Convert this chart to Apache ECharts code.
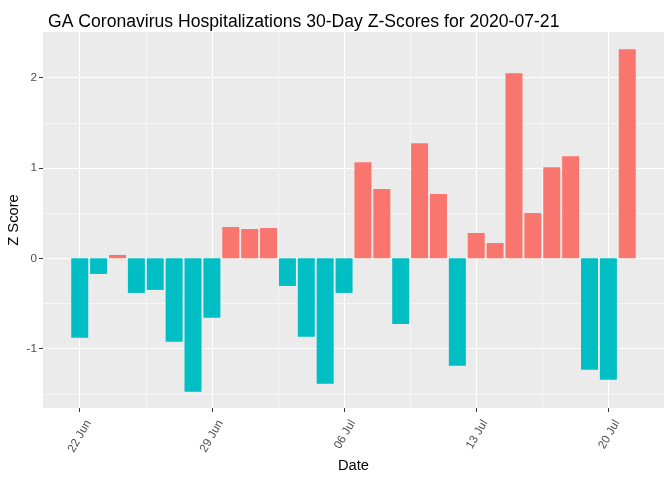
<!DOCTYPE html>
<html>
<head>
<meta charset="utf-8">
<script src="https://cdn.jsdelivr.net/npm/echarts@6/dist/echarts.min.js"></script>
<style>html,body{margin:0;padding:0;background:#fff}#c{width:672px;height:480px}</style>
</head>
<body>
<div id="c"></div>
<script>
// 30 days: 2020-06-22 .. 2020-07-21
const dates = ["2020-06-22","2020-06-23","2020-06-24","2020-06-25","2020-06-26","2020-06-27","2020-06-28",
  "2020-06-29","2020-06-30","2020-07-01","2020-07-02","2020-07-03","2020-07-04","2020-07-05",
  "2020-07-06","2020-07-07","2020-07-08","2020-07-09","2020-07-10","2020-07-11","2020-07-12",
  "2020-07-13","2020-07-14","2020-07-15","2020-07-16","2020-07-17","2020-07-18","2020-07-19",
  "2020-07-20","2020-07-21"];
const zScores = [-0.880,-0.173,0.037,-0.383,-0.350,-0.924,-1.477,
  -0.659,0.346,0.324,0.335,-0.306,-0.869,-1.389,
  -0.383,1.064,0.766,-0.726,1.274,0.711,-1.190,
  0.280,0.169,2.048,0.501,1.009,1.131,-1.234,
  -1.344,2.313];
const xTickDays = [0,7,14,21,28];
const xTickLabels = ["22 Jun","29 Jun","06 Jul","13 Jul","20 Jul"];
const xMinorDays = [3.5,10.5,17.5,24.5];
const yTicks = [-1,0,1,2];
const yMinor = [-1.5,-0.5,0.5,1.5];

const data = zScores.map((v,i)=>[i,v]);
const chart = echarts.init(document.getElementById('c'));
const labelMap = {};
xTickDays.forEach((d,i)=>labelMap[d]=xTickLabels[i]);

chart.setOption({
  animation:false,
  title:{text:"GA Coronavirus Hospitalizations 30-Day Z-Scores for 2020-07-21",left:43,top:8,
    textStyle:{fontFamily:"Liberation Sans",fontSize:17.6,fontWeight:'normal',color:'#000'}},
  grid:{left:43,right:8,top:32,bottom:72,show:true,backgroundColor:'#EBEBEB',borderWidth:0,
    outerBoundsMode:'none',containLabel:false},
  xAxis:[{
    type:'value',min:-1.945,max:30.945,
    name:'Date',nameLocation:'middle',nameGap:50,nameMoveOverlap:false,
    nameTextStyle:{fontFamily:"Liberation Sans",fontSize:14.7,color:'#000'},
    axisLine:{show:false,onZero:false},
    axisTick:{show:true,length:4,lineStyle:{color:'#333'},customValues:xTickDays},
    axisLabel:{show:true,customValues:xTickDays,rotate:60,margin:8,
      verticalAlign:'top',lineHeight:20,
      fontFamily:"Liberation Sans",fontSize:11.7,color:'#4D4D4D',
      formatter:v=>labelMap[v]||''},
    splitLine:{show:true,lineStyle:{color:'#fff',width:1.1}}
  },{
    type:'value',min:-1.945,max:30.945,position:'bottom',
    axisLine:{show:false,onZero:false},axisLabel:{show:false},
    axisTick:{show:true,length:0,customValues:xMinorDays},
    splitLine:{show:true,lineStyle:{color:'#fff',width:0.55}}
  }],
  yAxis:[{
    type:'value',min:-1.657,max:2.505,
    name:'Z Score',nameLocation:'middle',nameGap:22,nameRotate:90,nameMoveOverlap:false,
    nameTextStyle:{fontFamily:"Liberation Sans",fontSize:14.7,color:'#000'},
    axisLine:{show:false,onZero:false},
    axisTick:{show:true,length:4,lineStyle:{color:'#333'},customValues:yTicks},
    axisLabel:{show:true,customValues:yTicks,margin:6,
      fontFamily:"Liberation Sans",fontSize:11.7,color:'#4D4D4D'},
    splitLine:{show:true,lineStyle:{color:'#fff',width:1.1}}
  },{
    type:'value',min:-1.657,max:2.505,position:'left',
    axisLine:{show:false,onZero:false},axisLabel:{show:false},
    axisTick:{show:true,length:0,customValues:yMinor},
    splitLine:{show:true,lineStyle:{color:'#fff',width:0.55}}
  }],
  series:[{
    type:'bar',xAxisIndex:0,yAxisIndex:0,data:data,barWidth:17,
    itemStyle:{color:p=>p.value[1]>0?'#F8766D':'#00BFC4'}
  }]
});
</script>
</body>
</html>
